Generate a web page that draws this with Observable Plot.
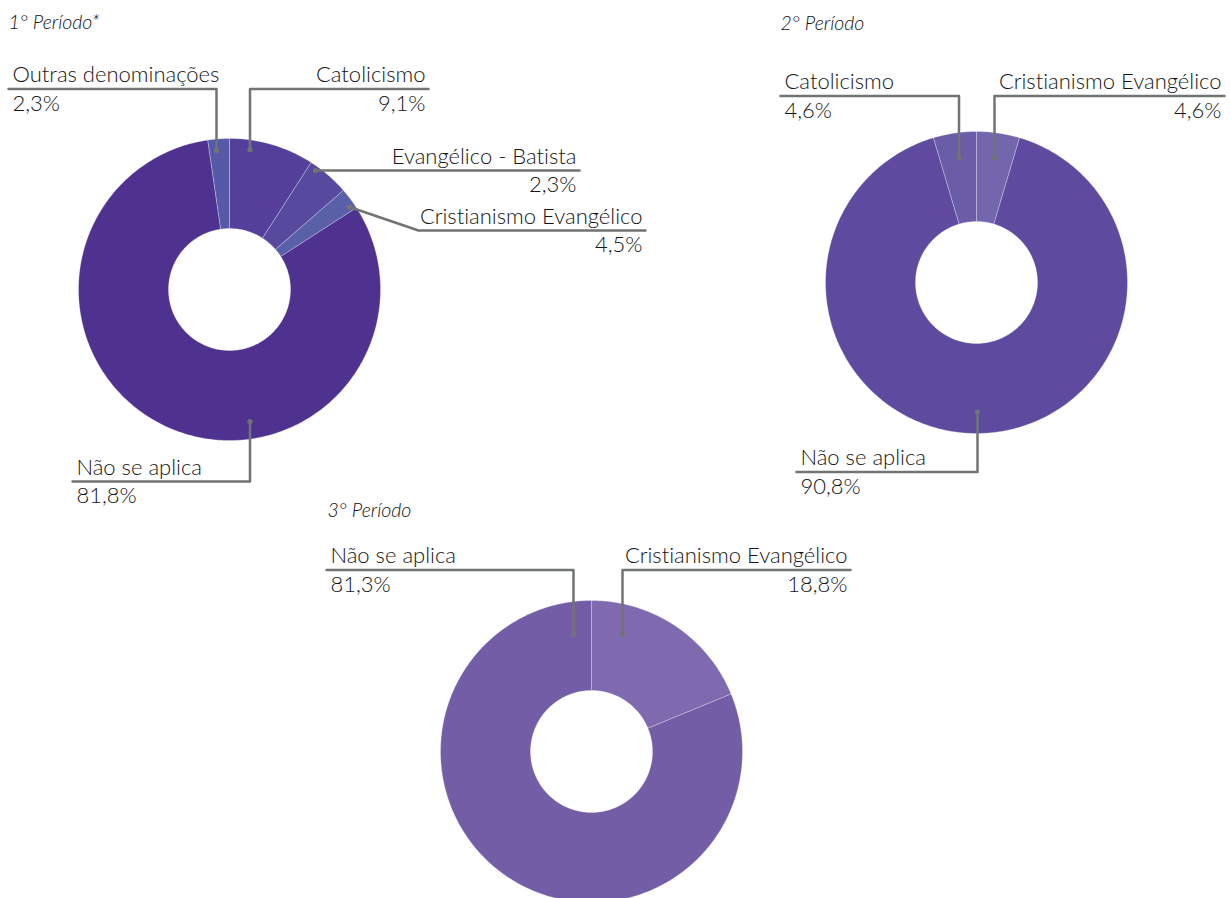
<!DOCTYPE html>
<html>
<head>
<meta charset="utf-8">
<script src="https://cdn.jsdelivr.net/npm/d3@7"></script>
<script src="https://cdn.jsdelivr.net/npm/@observablehq/plot@0.6"></script>
<style>
  html, body { margin: 0; padding: 0; background: #fff; }
  #chart svg { display: block; font-family: Lato, "Noto Sans", sans-serif; }
  #chart svg text { font-variant-ligatures: none; font-feature-settings: "liga" 0, "clig" 0; }
</style>
</head>
<body>
<div id="chart"></div>
<script>
// ---- data ----
const periods = ["1° Período*", "2° Período", "3° Período"];

const p1Categories = ["Catolicismo", "Cristianismo Evangélico", "Evangélico - Batista", "Não se aplica", "Outras denominações"];
const p1Values = [9.1, 4.5, 2.3, 81.8, 2.3];
const p1Colors = ["#54409b", "#574a9e", "#5960a8", "#4f318f", "#5658a8"];

const p2Categories = ["Cristianismo Evangélico", "Não se aplica", "Catolicismo"];
const p2Values = [4.6, 90.8, 4.6];
const p2Colors = ["#7366ac", "#5e4ba0", "#6a5ca6"];

const p3Categories = ["Cristianismo Evangélico", "Não se aplica"];
const p3Values = [18.8, 81.3];
const p3Colors = ["#7f6ab0", "#735da7"];

// ---- layout (pixel positions of donuts, titles and callouts) ----
const W = 1231, H = 898;
const donutLayout = [
  {cx: 229, cy: 289, r0: 61, r1: 151, title: [8, 28]},
  {cx: 976, cy: 282, r0: 61, r1: 151, title: [780, 29]},
  {cx: 591, cy: 751, r0: 61, r1: 151, title: [327, 516]}
];
// callouts: which label, which side, label line, and anchor path
const callouts = [
  {p: 0, name: "Outras denominações", side: "left",  y: 88.5, xs: 8,   xe: 216,   path: [[216, 150], [216, 88.5]]},
  {p: 0, name: "Catolicismo",         side: "right", y: 88.5, xs: 249.5, xe: 428, path: [[249.5, 149], [249.5, 88.5]]},
  {p: 0, name: "Evangélico - Batista", side: "right", y: 170, xs: 315, xe: 579,  path: [[315, 170]]},
  {p: 0, name: "Cristianismo Evangélico", side: "right", y: 230, xs: 418, xe: 645, path: [[349, 206.5], [418, 230]]},
  {p: 0, name: "Não se aplica",       side: "left",  y: 481, xs: 72,  xe: 249.5, path: [[249.5, 421], [249.5, 481]]},
  {p: 1, name: "Catolicismo",         side: "left",  y: 95.5, xs: 780, xe: 958.5, path: [[958.5, 157], [958.5, 95.5]]},
  {p: 1, name: "Cristianismo Evangélico", side: "right", y: 95.5, xs: 994, xe: 1224, path: [[994, 157], [994, 95.5]]},
  {p: 1, name: "Não se aplica",       side: "left",  y: 471.5, xs: 796, xe: 977, path: [[977, 411.5], [977, 471.5]]},
  {p: 2, name: "Não se aplica",       side: "left",  y: 569.5, xs: 326, xe: 573, path: [[573, 634], [573, 569.5]]},
  {p: 2, name: "Cristianismo Evangélico", side: "right", y: 569.5, xs: 622, xe: 850, path: [[622, 634], [622, 569.5]]}
];

// ---- build slices ----
const series = [
  {cats: p1Categories, vals: p1Values, cols: p1Colors},
  {cats: p2Categories, vals: p2Values, cols: p2Colors},
  {cats: p3Categories, vals: p3Values, cols: p3Colors}
];
const fmt = v => v.toFixed(1).replace(".", ",") + "%";

const slicePts = [];
series.forEach((s, pi) => {
  const L = donutLayout[pi];
  const total = d3.sum(s.vals);
  let acc = 0;
  s.vals.forEach((v, i) => {
    const a0 = (acc / total) * 2 * Math.PI;
    acc += v;
    const a1 = (acc / total) * 2 * Math.PI;
    const key = pi + "-" + i;
    const n = Math.max(4, Math.ceil((a1 - a0) / (Math.PI / 180)));
    const pts = [];
    for (let k = 0; k <= n; k++) {
      const a = a0 + (a1 - a0) * k / n;
      pts.push({key, color: s.cols[i], x: L.cx + L.r1 * Math.sin(a), y: L.cy - L.r1 * Math.cos(a)});
    }
    for (let k = n; k >= 0; k--) {
      const a = a0 + (a1 - a0) * k / n;
      pts.push({key, color: s.cols[i], x: L.cx + L.r0 * Math.sin(a), y: L.cy - L.r0 * Math.cos(a)});
    }
    pts.push({...pts[0]});
    slicePts.push(...pts);
  });
});

// callout lines, dots and texts
const lineRows = [];
const dotRows = [];
const labelRows = [];
const pctRows = [];
callouts.forEach((c, ci) => {
  const s = series[c.p];
  const v = s.vals[s.cats.indexOf(c.name)];
  const pts = c.path.concat(c.side === "left" ? [[c.xs, c.y]] : [[c.xe, c.y]]);
  pts.forEach(([x, y]) => lineRows.push({id: ci, x, y}));
  dotRows.push({x: c.path[0][0], y: c.path[0][1]});
  const tx = c.side === "left" ? c.xs + 4 : c.xe - 3;
  labelRows.push({x: tx, y: c.y - 7, text: c.name, anchor: c.side === "left" ? "start" : "end"});
  pctRows.push({x: tx, y: c.y + 21.5, text: fmt(v), anchor: c.side === "left" ? "start" : "end"});
});
const titleRows = periods.map((t, i) => ({x: donutLayout[i].title[0], y: donutLayout[i].title[1], text: t}));

const textOpts = {fontSize: 22, fontWeight: 300, fill: "#151515", lineAnchor: "bottom", fontFamily: "Lato"};

const chart = Plot.plot({
  width: W,
  height: H,
  margin: 0,
  x: {domain: [0, W], range: [0, W], axis: null},
  y: {domain: [0, H], range: [0, H], axis: null},
  color: {type: "identity"},
  marks: [
    Plot.line(slicePts, {x: "x", y: "y", z: "key", fill: "color", stroke: "#ffffff", strokeOpacity: 0.35, strokeWidth: 0.8, curve: "linear"}),
    Plot.line(lineRows, {x: "x", y: "y", z: "id", stroke: "#707473", strokeWidth: 2.5, curve: "linear"}),
    Plot.dot(dotRows, {x: "x", y: "y", r: 2.6, fill: "#707473", stroke: null}),
    Plot.text(labelRows.filter(d => d.anchor === "start"), {x: "x", y: "y", text: "text", textAnchor: "start", ...textOpts}),
    Plot.text(labelRows.filter(d => d.anchor === "end"), {x: "x", y: "y", text: "text", textAnchor: "end", ...textOpts}),
    Plot.text(pctRows.filter(d => d.anchor === "start"), {x: "x", y: "y", text: "text", textAnchor: "start", ...textOpts}),
    Plot.text(pctRows.filter(d => d.anchor === "end"), {x: "x", y: "y", text: "text", textAnchor: "end", ...textOpts}),
    Plot.text(titleRows, {x: "x", y: "y", text: "text", textAnchor: "start", lineAnchor: "bottom", fontSize: 19.5, fontWeight: 300, fontStyle: "italic", fill: "#111", fontFamily: "Lato"})
  ]
});
document.getElementById("chart").appendChild(chart);
</script>
</body>
</html>
